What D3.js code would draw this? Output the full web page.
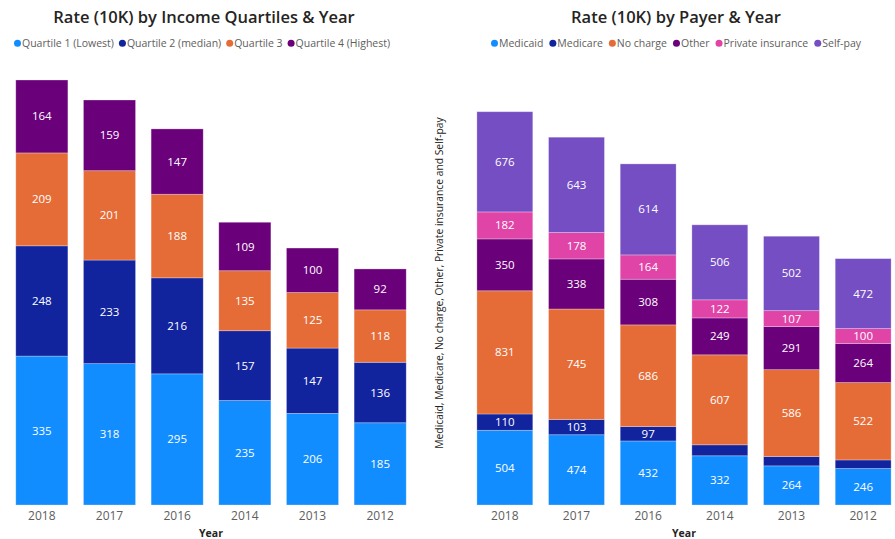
<!DOCTYPE html>
<html>
<head>
<meta charset="utf-8">
<script src="https://cdn.jsdelivr.net/npm/d3@7"></script>
<style>
  body { margin: 0; background: #fff; }
  text { font-family: "Open Sans", "Noto Sans", sans-serif; }
</style>
</head>
<body>
<div id="vis"></div>
<script>
(function(){

    // ---- data ----
    var years = ['2018', '2017', '2016', '2014', '2013', '2012'];

    var quartiles = ['Quartile 1 (Lowest)', 'Quartile 2 (median)', 'Quartile 3', 'Quartile 4 (Highest)'];
    var quartile1 = [335, 318, 295, 235, 206, 185];
    var quartile2 = [248, 233, 216, 157, 147, 136];
    var quartile3 = [209, 201, 188, 135, 125, 118];
    var quartile4 = [164, 159, 147, 109, 100, 92];

    var payers = ['Medicaid', 'Medicare', 'No charge', 'Other', 'Private insurance', 'Self-pay'];
    var medicaid = [504, 474, 432, 332, 264, 246];
    var medicare = [110, 103, 97, 74, 63, 58];
    var noCharge = [831, 745, 686, 607, 586, 522];
    var other = [350, 338, 308, 249, 291, 264];
    var privateIns = [182, 178, 164, 122, 107, 100];
    var selfPay = [676, 643, 614, 506, 502, 472];

    var palette = ['#118DFF', '#12239E', '#E66C37', '#6B007B', '#E044A7', '#744EC2'];

    var width = 895;
    var height = 539;

    var svg = d3.select('#vis')
        .append('svg')
            .attr('width', width)
            .attr('height', height);

    function toRows(keys, seriesList) {
        return years.map(function(y, i) {
            var row = {year: y};
            keys.forEach(function(k, j) { row[k] = seriesList[j][i]; });
            return row;
        });
    }

    function drawChart(opts) {
        var g = svg.append('g');
        var rows = toRows(opts.keys, opts.series);
        var colour = d3.scaleOrdinal().domain(opts.keys).range(palette);

        var xScale = d3.scaleBand()
            .domain(years)
            .range(opts.xRange)
            .paddingInner(opts.pad)
            .paddingOuter(opts.pad / 2);

        var totals = rows.map(function(r) { return d3.sum(opts.keys, function(k) { return r[k]; }); });
        var yScale = d3.scaleLinear()
            .domain([0, d3.max(totals)])
            .range([505, opts.top]);

        // title
        g.append('text')
            .attr('x', opts.cx)
            .attr('y', 23)
            .attr('text-anchor', 'middle')
            .attr('font-size', '16.5px')
            .attr('font-weight', 600)
            .attr('fill', '#252423')
            .text(opts.title);

        // legend
        var lg = g.append('g').attr('transform', 'translate(' + opts.legendX + ',47)');
        var lx = 0;
        opts.keys.forEach(function(k) {
            var item = lg.append('g').attr('transform', 'translate(' + lx + ',0)');
            item.append('circle')
                .attr('cx', 3.5)
                .attr('cy', -3.8)
                .attr('r', 3.5)
                .attr('fill', colour(k));
            var t = item.append('text')
                .attr('x', 8)
                .attr('font-size', '10.5px')
                .attr('fill', '#605E5C')
                .text(k);
            lx += 8 + t.node().getComputedTextLength() + opts.legendGap;
        });

        var stack = d3.stack().keys(opts.keys);
        var stacked = stack(rows);

        var series = g.selectAll('g.series')
            .data(stacked)
            .enter()
            .append('g')
            .attr('class', 'series')
            .attr('fill', function(d) { return colour(d.key); });

        series.selectAll('rect')
            .data(function(d) { return d; })
            .enter()
            .append('rect')
            .attr('x', function(d) { return xScale(d.data.year); })
            .attr('width', xScale.bandwidth())
            .attr('y', function(d) { return yScale(d[1]); })
            .attr('height', function(d) { return yScale(d[0]) - yScale(d[1]); })
            .attr('stroke', 'rgba(255,255,255,0.35)')
            .attr('stroke-width', 0.8);

        series.selectAll('.label')
            .data(function(d) { return d; })
            .enter()
            .append('text')
            .attr('class', 'label')
            .attr('x', function(d) { return xScale(d.data.year) + xScale.bandwidth() / 2; })
            .attr('y', function(d) { return (yScale(d[0]) + yScale(d[1])) / 2; })
            .attr('dy', '0.35em')
            .attr('text-anchor', 'middle')
            .attr('font-size', '11.5px')
            .attr('fill', '#fff')
            .text(function(d) {
                if (yScale(d[0]) - yScale(d[1]) < 13) {
                    return '';
                }
                return d[1] - d[0];
            });

        // x axis
        var xAxis = d3.axisBottom(xScale).tickSize(0).tickPadding(6);
        var ax = g.append('g')
            .attr('transform', 'translate(0,505)')
            .call(xAxis);
        ax.select('.domain').remove();
        ax.selectAll('.tick text')
            .attr('font-size', '12px')
            .attr('font-family', '"Open Sans", sans-serif')
            .attr('fill', '#605E5C');

        g.append('text')
            .attr('x', (opts.xRange[0] + opts.xRange[1]) / 2)
            .attr('y', 537)
            .attr('text-anchor', 'middle')
            .attr('font-size', '10.5px')
            .attr('font-weight', 700)
            .attr('fill', '#252423')
            .text('Year');

        if (opts.yTitle) {
            g.append('text')
                .attr('transform', 'translate(' + opts.yTitleX + ',283) rotate(-90)')
                .attr('text-anchor', 'middle')
                .attr('font-size', '10.3px')
                .attr('fill', '#252423')
                .text(opts.yTitle);
        }
    }

    drawChart({
        keys: quartiles,
        series: [quartile1, quartile2, quartile3, quartile4],
        title: 'Rate (10K) by Income Quartiles & Year',
        cx: 204,
        legendX: 14,
        legendGap: 5,
        xRange: [8, 414],
        pad: 0.23,
        top: 80
    });

    drawChart({
        keys: payers,
        series: [medicaid, medicare, noCharge, other, privateIns, selfPay],
        title: 'Rate (10K) by Payer & Year',
        cx: 676,
        legendX: 491,
        legendGap: 6,
        xRange: [469, 899],
        pad: 0.22,
        top: 111.7,
        yTitle: 'Medicaid, Medicare, No charge, Other, Private insurance and Self-pay',
        yTitleX: 443
    });

})();
</script>
</body>
</html>
